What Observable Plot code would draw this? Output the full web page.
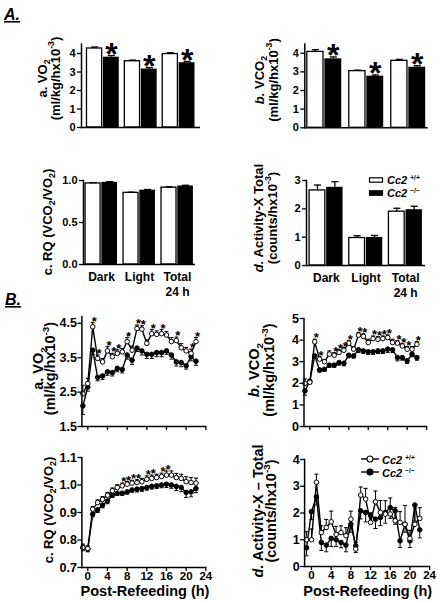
<!DOCTYPE html>
<html>
<head>
<meta charset="utf-8">
<script src="https://cdn.jsdelivr.net/npm/d3@7"></script>
<script src="https://cdn.jsdelivr.net/npm/@observablehq/plot@0.6"></script>
<style>
  html, body { margin: 0; padding: 0; background: white; }
  #chart { position: relative; width: 442px; height: 602px; overflow: hidden; }
</style>
</head>
<body>
<div id="chart"></div>
<script>
// ---------- Data ----------
const groups = ["Dark", "Light", "Total"];
const groupLabels = ["Dark", "Light", "Total\n24 h"];

// Panel A (24 h averages): +/+ (white) and -/- (black)
const vo2Wt = [4.27, 3.58, 3.97];   const vo2WtErr = [0.08, 0.06, 0.07];
const vo2Ko = [3.80, 3.16, 3.50];   const vo2KoErr = [0.09, 0.08, 0.07];
const vo2Star = [true, true, true];
const vco2Wt = [4.07, 3.04, 3.59];  const vco2WtErr = [0.12, 0.05, 0.08];
const vco2Ko = [3.70, 2.77, 3.25];  const vco2KoErr = [0.10, 0.06, 0.08];
const vco2Star = [true, true, true];
const rqWt = [0.965, 0.853, 0.915]; const rqWtErr = [0.010, 0.008, 0.010];
const rqKo = [0.978, 0.885, 0.935]; const rqKoErr = [0.008, 0.008, 0.008];
const rqStar = [false, false, false];
const actWt = [2.65, 0.97, 1.90];   const actWtErr = [0.19, 0.08, 0.12];
const actKo = [2.76, 0.99, 1.97];   const actKoErr = [0.20, 0.07, 0.12];
const actStar = [false, false, false];

// Panel B (post-refeeding time course)
const hours = [-1, 0, 1, 2, 3, 4, 5, 6, 7, 8, 9, 10, 11, 12, 13, 14, 15, 16, 17, 18, 19, 20, 21, 22];
const vo2WtTime = [2.45, 2.75, 4.40, 3.48, 3.38, 3.70, 3.53, 3.63, 3.67, 3.97, 3.72, 4.35, 4.33, 3.92, 4.20, 4.18, 4.20, 4.16, 3.97, 4.00, 3.79, 3.70, 3.63, 3.97];
const vo2WtTimeErr = [0.25, 0.15, 0.12, 0.10, 0.10, 0.12, 0.10, 0.10, 0.10, 0.12, 0.12, 0.10, 0.10, 0.10, 0.12, 0.10, 0.12, 0.10, 0.12, 0.10, 0.12, 0.10, 0.12, 0.12];
const vo2KoTime = [2.10, 2.65, 3.72, 2.93, 2.97, 3.09, 3.07, 3.19, 3.16, 3.58, 3.43, 3.78, 3.70, 3.60, 3.60, 3.65, 3.65, 3.70, 3.58, 3.38, 3.36, 3.27, 3.53, 3.40];
const vo2KoTimeErr = [0.25, 0.12, 0.12, 0.10, 0.10, 0.10, 0.10, 0.10, 0.10, 0.12, 0.12, 0.10, 0.12, 0.12, 0.12, 0.12, 0.12, 0.10, 0.12, 0.12, 0.12, 0.10, 0.12, 0.12];
const vo2StarHours = [1, 2, 4, 5, 6, 8, 10, 11, 13, 15, 18, 21, 22];

const vco2WtTime = [2.00, 2.05, 3.92, 3.12, 3.00, 3.35, 3.30, 3.43, 3.53, 3.86, 3.58, 4.23, 4.17, 3.89, 4.07, 4.04, 4.07, 4.12, 3.89, 3.86, 3.73, 3.58, 3.58, 3.81];
const vco2WtTimeErr = [0.20, 0.12, 0.12, 0.12, 0.10, 0.15, 0.12, 0.12, 0.12, 0.12, 0.12, 0.12, 0.12, 0.15, 0.12, 0.12, 0.12, 0.12, 0.15, 0.12, 0.12, 0.12, 0.12, 0.12];
const vco2KoTime = [1.65, 2.10, 3.27, 2.62, 2.65, 2.84, 2.84, 2.96, 2.93, 3.30, 3.27, 3.55, 3.50, 3.46, 3.46, 3.50, 3.50, 3.58, 3.55, 3.19, 3.19, 3.04, 3.35, 3.19];
const vco2KoTimeErr = [0.20, 0.12, 0.12, 0.10, 0.10, 0.10, 0.10, 0.12, 0.12, 0.12, 0.10, 0.12, 0.12, 0.12, 0.12, 0.12, 0.12, 0.15, 0.12, 0.15, 0.12, 0.12, 0.12, 0.12];
const vco2StarHours = [1, 2, 5, 6, 7, 8, 10, 11, 13, 14, 15, 16, 18, 19, 20, 22];

const rqWtTime = [0.773, 0.769, 0.912, 0.936, 0.948, 0.963, 0.979, 0.991, 0.997, 1.003, 1.007, 1.009, 1.012, 1.021, 1.024, 1.027, 1.031, 1.036, 1.036, 1.027, 1.024, 1.012, 1.009, 1.007];
const rqWtTimeErr = [0.012, 0.010, 0.010, 0.010, 0.010, 0.010, 0.010, 0.010, 0.010, 0.010, 0.010, 0.010, 0.012, 0.012, 0.012, 0.012, 0.012, 0.015, 0.015, 0.015, 0.015, 0.018, 0.018, 0.018];
const rqKoTime = [0.773, 0.767, 0.894, 0.910, 0.927, 0.942, 0.963, 0.970, 0.970, 0.975, 0.982, 0.985, 0.987, 0.991, 0.995, 0.997, 1.000, 1.003, 1.000, 0.995, 0.991, 0.973, 0.975, 0.987];
const rqKoTimeErr = [0.012, 0.010, 0.010, 0.010, 0.010, 0.010, 0.008, 0.008, 0.008, 0.008, 0.008, 0.010, 0.010, 0.010, 0.010, 0.010, 0.010, 0.012, 0.012, 0.015, 0.015, 0.018, 0.018, 0.015];
const rqStarHours = [7, 8, 9, 10, 12, 13, 15, 16];

const actWtTime = [1.00, 1.00, 3.15, 1.27, 1.46, 1.67, 1.20, 1.27, 1.15, 1.77, 0.65, 2.67, 2.52, 1.65, 2.42, 2.02, 1.96, 1.96, 1.71, 1.65, 1.58, 1.05, 1.58, 1.80];
const actWtTimeErr = [0.30, 0.40, 0.30, 0.25, 0.30, 0.40, 0.30, 0.25, 0.30, 0.30, 0.25, 0.30, 0.40, 0.35, 0.40, 0.45, 0.50, 0.60, 0.50, 0.40, 0.70, 0.30, 0.60, 0.40];
const actKoTime = [0.70, 2.05, 2.60, 0.90, 0.80, 1.05, 1.00, 0.90, 0.80, 1.58, 0.77, 2.08, 2.02, 1.92, 1.77, 1.83, 2.02, 2.20, 2.08, 0.96, 1.58, 0.96, 2.30, 1.37];
const actKoTimeErr = [0.30, 0.30, 0.30, 0.30, 0.25, 0.30, 0.25, 0.20, 0.25, 0.30, 0.25, 0.30, 0.35, 0.30, 0.35, 0.30, 0.40, 0.40, 0.50, 0.25, 0.30, 0.25, 0.60, 0.30];
const actStarHours = [];

const timeTicks = [0, 4, 8, 12, 16, 20, 24];

// ---------- Helpers ----------
const FONT = "'Liberation Sans', Arial, Helvetica, sans-serif";
const W = 442, H = 602;
const container = document.getElementById("chart");

// error-bar cap: short horizontal stroke
const cap = {draw(ctx, size) { const w = Math.sqrt(size) / 2; ctx.moveTo(-w, 0); ctx.lineTo(w, 0); }};

function place(svg) {
  svg.style.position = "absolute";
  svg.style.left = "0px";
  svg.style.top = "0px";
  svg.style.background = "transparent";
  svg.style.overflow = "visible";
  container.appendChild(svg);
}

function barPanel(p) {
  const n = groups.length;
  const step = (p.x1 - p.x0) / (n - p.pi + 2 * p.po);
  const bw = step * (1 - p.pi);
  const rows = groups.map((g, i) => ({group: g, wt: p.wt[i], wtErr: p.wtErr[i], ko: p.ko[i], koErr: p.koErr[i], star: p.stars[i]}));
  const dxW = -0.265 * bw, dxK = 0.255 * bw;
  const marks = [
    Plot.barY(rows, {x: "group", y: "wt", fill: "white", stroke: "black", strokeWidth: 1.3, insetRight: 0.53 * bw}),
    Plot.barY(rows, {x: "group", y: "ko", fill: "black", insetLeft: 0.51 * bw}),
    Plot.ruleX(rows, {x: "group", y1: "wt", y2: d => d.wt + d.wtErr, dx: dxW, stroke: "black", strokeWidth: 1.3}),
    Plot.dot(rows, {x: "group", y: d => d.wt + d.wtErr, dx: dxW, symbol: cap, r: 4, stroke: "black", strokeWidth: 1.3}),
    Plot.ruleX(rows, {x: "group", y1: "ko", y2: d => d.ko + d.koErr, dx: dxK, stroke: "black", strokeWidth: 1.3}),
    Plot.dot(rows, {x: "group", y: d => d.ko + d.koErr, dx: dxK, symbol: cap, r: 4, stroke: "black", strokeWidth: 1.3}),
    Plot.text(rows.filter(d => d.star), {x: "group", y: d => d.ko + d.koErr, dx: dxK, text: () => "*", fill: "black", fontSize: 32, fontWeight: "bold", lineAnchor: "middle", dy: -1}),
    Plot.ruleY([p.yDomain[0]], {stroke: "black", strokeWidth: 1.5}),
    Plot.frame({anchor: "left", stroke: "black", strokeWidth: 1.5}),
    Plot.axisY(p.yTicks, {tickSize: 4, tickPadding: 2, tickFormat: p.yFormat, strokeWidth: 1.3, fontSize: 11, fontWeight: "bold", label: null})
  ];
  if (p.labels) {
    marks.push(Plot.axisX({tickSize: 0, tickPadding: 6, lineHeight: 1.25, fontSize: 12, fontWeight: "bold",
      tickFormat: g => groupLabels[groups.indexOf(g)], label: null}));
  }
  const svg = Plot.plot({
    width: W, height: H,
    marginLeft: p.x0, marginRight: W - p.x1, marginTop: p.y0, marginBottom: H - p.y1,
    style: {fontFamily: FONT, fontWeight: "bold", color: "black", background: "transparent"},
    x: {domain: groups, paddingInner: p.pi, paddingOuter: p.po, round: false, label: null, ...(p.labels ? {} : {axis: null})},
    y: {domain: p.yDomain, label: null},
    marks
  });
  place(svg);
}

function linePanel(p) {
  const rows = hours.map((h, i) => ({h, wt: p.wt[i], wtErr: p.wtErr[i], ko: p.ko[i], koErr: p.koErr[i]}));
  const starRows = rows.filter(d => p.stars.includes(d.h));
  const svg = Plot.plot({
    width: W, height: H,
    marginLeft: p.x0, marginRight: W - p.x1, marginTop: p.y0, marginBottom: H - p.y1,
    style: {fontFamily: FONT, fontWeight: "bold", color: "black", background: "transparent"},
    x: {domain: p.xDomain, label: null},
    y: {domain: p.yDomain, label: null},
    marks: [
      Plot.ruleX(rows, {x: "h", y1: "ko", y2: d => d.ko - d.koErr, stroke: "black", strokeWidth: 1}),
      Plot.dot(rows, {x: "h", y: d => d.ko - d.koErr, symbol: cap, r: 2.3, stroke: "black", strokeWidth: 1}),
      Plot.ruleX(rows, {x: "h", y1: "wt", y2: d => d.wt + d.wtErr, stroke: "black", strokeWidth: 1}),
      Plot.dot(rows, {x: "h", y: d => d.wt + d.wtErr, symbol: cap, r: 2.3, stroke: "black", strokeWidth: 1}),
      Plot.line(rows, {x: "h", y: "ko", stroke: "black", strokeWidth: 1.4}),
      Plot.line(rows, {x: "h", y: "wt", stroke: "black", strokeWidth: 1.4}),
      Plot.dot(rows, {x: "h", y: "ko", r: 2.3, fill: "black", stroke: "black", strokeWidth: 1}),
      Plot.dot(rows, {x: "h", y: "wt", r: 2.3, fill: "white", stroke: "black", strokeWidth: 1}),
      Plot.text(starRows, {x: "h", y: d => d.wt + d.wtErr, text: () => "*", fill: "black", fontSize: 13, fontWeight: "bold", dx: 1.5, dy: -1, lineAnchor: "middle"}),
      Plot.ruleY([p.yDomain[0]], {stroke: "black", strokeWidth: 1.5}),
      Plot.frame({anchor: "left", stroke: "black", strokeWidth: 1.5}),
      Plot.axisY(p.yTicks, {tickSize: 4, tickPadding: 1, tickFormat: p.yFormat, strokeWidth: 1.3, fontSize: 12.5, fontWeight: "bold", label: null}),
      Plot.axisX(timeTicks, {tickSize: 4, tickPadding: 0, tickFormat: p.xLabels ? (d => String(d)) : (() => ""), strokeWidth: 1.3, fontSize: 11.5, fontWeight: "bold", label: null})
    ]
  });
  place(svg);
}

// ---------- Panel A ----------
barPanel({wt: vo2Wt, wtErr: vo2WtErr, ko: vo2Ko, koErr: vo2KoErr, stars: vo2Star,
  x0: 81, x1: 200, y0: 43.75, y1: 127, pi: 0.147, po: 0.145,
  yDomain: [0, 4.5], yTicks: [0, 1, 2, 3, 4], yFormat: d => String(d), labels: false});
barPanel({wt: vco2Wt, wtErr: vco2WtErr, ko: vco2Ko, koErr: vco2KoErr, stars: vco2Star,
  x0: 304.3, x1: 427.7, y0: 43.4, y1: 127.3, pi: 0.18, po: 0.06,
  yDomain: [0, 4.5], yTicks: [0, 1, 2, 3, 4], yFormat: d => String(d), labels: false});
barPanel({wt: rqWt, wtErr: rqWtErr, ko: rqKo, koErr: rqKoErr, stars: rqStar,
  x0: 83, x1: 195, y0: 180, y1: 264, pi: 0.16, po: 0.055,
  yDomain: [0, 1.0], yTicks: [0, 0.5, 1.0], yFormat: d3.format(".1f"), labels: true});
barPanel({wt: actWt, wtErr: actWtErr, ko: actKo, koErr: actKoErr, stars: actStar,
  x0: 306, x1: 425, y0: 180, y1: 265, pi: 0.156, po: 0.078,
  yDomain: [0, 3], yTicks: [0, 1, 2, 3], yFormat: d => String(d), labels: true});

// ---------- Panel B ----------
linePanel({wt: vo2WtTime, wtErr: vo2WtTimeErr, ko: vo2KoTime, koErr: vo2KoTimeErr, stars: vo2StarHours,
  x0: 81.4, x1: 206.3, y0: 316, y1: 426, xDomain: [-1.2, 24.2],
  yDomain: [1.5, 4.7], yTicks: [1.5, 2.5, 3.5, 4.5], yFormat: d3.format(".1f"), xLabels: false});
linePanel({wt: vco2WtTime, wtErr: vco2WtTimeErr, ko: vco2KoTime, koErr: vco2KoTimeErr, stars: vco2StarHours,
  x0: 303.5, x1: 427.1, y0: 318, y1: 426, xDomain: [-1.2, 24.2],
  yDomain: [0, 5], yTicks: [0, 1, 2, 3, 4, 5], yFormat: d => String(d), xLabels: false});
linePanel({wt: rqWtTime, wtErr: rqWtTimeErr, ko: rqKoTime, koErr: rqKoTimeErr, stars: rqStarHours,
  x0: 81.4, x1: 206.3, y0: 457, y1: 567, xDomain: [-1.2, 24.2],
  yDomain: [0.7, 1.1], yTicks: [0.7, 0.8, 0.9, 1.0, 1.1], yFormat: d3.format(".1f"), xLabels: true});
linePanel({wt: actWtTime, wtErr: actWtTimeErr, ko: actKoTime, koErr: actKoTimeErr, stars: actStarHours,
  x0: 304.1, x1: 430.1, y0: 459, y1: 566, xDomain: [-1.4, 24.2],
  yDomain: [0, 4], yTicks: [0, 1, 2, 3, 4], yFormat: d => String(d), xLabels: true});

// ---------- Text overlay: panel letters, axis titles, legends ----------
const ov = d3.create("svg")
  .attr("width", W).attr("height", H)
  .style("position", "absolute").style("left", "0px").style("top", "0px")
  .attr("font-family", FONT).attr("font-weight", "bold").attr("fill", "black");

function rich(x, y, parts, size, {rotate = false, anchor = "middle"} = {}) {
  const t = ov.append("text").attr("font-size", size).attr("text-anchor", anchor);
  if (rotate) t.attr("transform", `translate(${x},${y}) rotate(-90)`);
  else t.attr("x", x).attr("y", y);
  let shift = 0;
  for (const p of parts) {
    const target = p.sub ? size * 0.3 : p.sup ? -size * (p.shift || 0.42) : 0;
    const ts = t.append("tspan").text(p.t).attr("dy", target - shift);
    if (p.sub || p.sup) ts.attr("font-size", size * (p.scale || 0.68));
    if (p.i) ts.attr("font-style", "italic");
    shift = target;
  }
  return t;
}

// Panel letters
rich(4, 20, [{t: "A."}], 16, {anchor: "start"}).attr("font-style", "italic").attr("text-decoration", "underline");
rich(5, 305, [{t: "B."}], 16, {anchor: "start"}).attr("font-style", "italic").attr("text-decoration", "underline");

const unitsMl = [{t: "(ml/kg/hx10"}, {t: "-3", sup: true}, {t: ")"}];
const unitsCounts = [{t: "(counts/hx10"}, {t: "-3", sup: true}, {t: ")"}];
const rqParts = (letter, it) => [{t: letter + " ", i: it}, {t: "RQ (VCO"}, {t: "2", sub: true}, {t: "/VO"}, {t: "2", sub: true}, {t: ")"}];

// Panel A titles (13px)
rich(46.5, 78.5, [{t: "a. "}, {t: "VO"}, {t: "2", sub: true}], 13, {rotate: true});
rich(59.5, 78.5, unitsMl, 13, {rotate: true});
rich(263.5, 80, [{t: "b.", i: true}, {t: " VCO"}, {t: "2", sub: true}], 13, {rotate: true});
rich(277.5, 80, unitsMl, 13, {rotate: true});
rich(51.5, 222, rqParts("c.", false), 13, {rotate: true});
rich(262.5, 218, [{t: "d.", i: true}, {t: " Activity-X Total"}], 13, {rotate: true});
rich(276.5, 218, unitsCounts, 13, {rotate: true});

// Panel B titles
rich(42.5, 368.5, [{t: "a. "}, {t: "VO"}, {t: "2", sub: true}], 14.5, {rotate: true});
rich(55, 368.5, unitsMl, 14.5, {rotate: true});
rich(259, 370, [{t: "b.", i: true}, {t: " VCO"}, {t: "2", sub: true}], 14.5, {rotate: true});
rich(274, 370, unitsMl, 14.5, {rotate: true});
rich(52.5, 510, rqParts("c.", false), 13, {rotate: true});
rich(262.8, 511, [{t: "d.", i: true}, {t: " Activity-X \u2013 Total"}], 14.5, {rotate: true});
rich(276, 511, unitsCounts, 14.5, {rotate: true});

// x titles
rich(145, 596, [{t: "Post-Refeeding (h)"}], 14.5);
rich(367.7, 596, [{t: "Post-Refeeding (h)"}], 14.5);

// Legend, panel A-d (bars)
const legendA = [{fill: "white", sup: "+/+", y: 177.8}, {fill: "black", sup: "\u2212/\u2212", y: 190.8}];
for (const l of legendA) {
  ov.append("rect").attr("x", 369.5).attr("y", l.y).attr("width", 13).attr("height", 4.4)
    .attr("fill", l.fill).attr("stroke", "black").attr("stroke-width", 1.2);
  rich(387, l.y + 6.5, [{t: "Cc2 ", i: true}, {t: l.sup, sup: true, scale: 0.6, shift: 0.36}], 11, {anchor: "start"});
}
// Legend, panel B-d (lines)
const legendB = [{fill: "white", sup: "+/+", y: 459}, {fill: "black", sup: "\u2212/\u2212", y: 472}];
for (const l of legendB) {
  ov.append("line").attr("x1", 361).attr("x2", 379).attr("y1", l.y).attr("y2", l.y).attr("stroke", "black").attr("stroke-width", 1.4);
  ov.append("circle").attr("cx", 370).attr("cy", l.y).attr("r", 3).attr("fill", l.fill).attr("stroke", "black").attr("stroke-width", 1.1);
  rich(382, l.y + 4.5, [{t: "Cc2 ", i: true}, {t: l.sup, sup: true, scale: 0.6, shift: 0.36}], 11, {anchor: "start"});
}

container.appendChild(ov.node());
</script>
</body>
</html>
